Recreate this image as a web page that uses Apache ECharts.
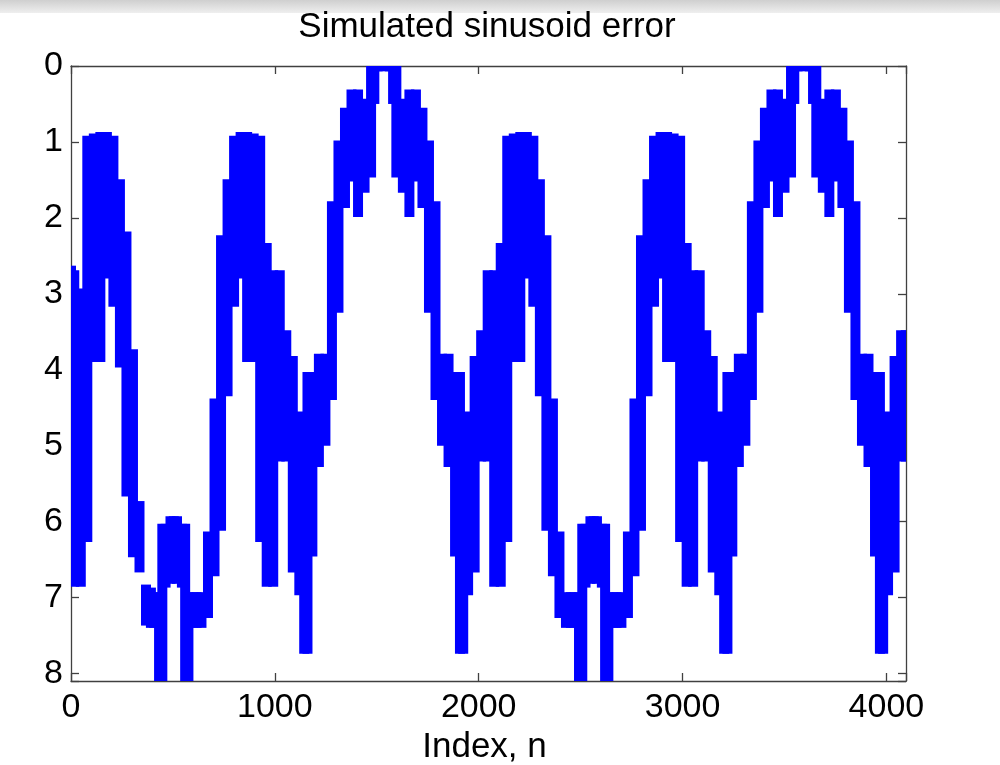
<!DOCTYPE html>
<html>
<head>
<meta charset="utf-8">
<script src="https://cdn.jsdelivr.net/npm/echarts@6/dist/echarts.min.js"></script>
<style>
html,body{margin:0;padding:0;background:#fff;}
#edge{position:absolute;left:0;top:0;width:1000px;height:13px;background:linear-gradient(#cfcfcf,#efefef);z-index:0;}
#chart{position:absolute;left:0;top:0;width:1000px;height:765px;z-index:1;}
</style>
</head>
<body>
<div id="edge"></div>
<div id="chart"></div>
<script>
// Sample index n of each read column
const sampleIndex = [
  0,16,48,80,112,144,176,208,240,272,304,336,368,392,408,432,448,464,488,
  504,520,544,560,576,600,616,640,672,704,736,768,800,832,864,896,928,960,992,1024,1056,1088,1120,1144,1160,1184,1216,1248,1280,1312,1344,1376,1408,1440,1472,1488,1504,1534,
  1564,1580,1596,1628,1660,1692,1724,1756,1788,1820,1852,1884,1908,1924,1948,1980,2012,2044,2076,2108,2140,2172,2204,2236,2268,2300,2332,2364,2396,2428,2452,2468,2492,2508,2524,2548,2564,
  2580,2604,2620,2636,2660,2676,2700,2732,2764,2796,2828,2860,2892,2924,2956,2988,3020,3052,3084,3116,3148,3180,3204,3220,3244,3276,3308,3340,3372,3404,3436,3468,3500,3532,3548,3564,3594,
  3624,3640,3656,3688,3720,3752,3784,3816,3848,3880,3912,3944,3968,3984,4008,4040,4072,4095
];
// Smallest error value reached around each column
const lowerEdge = [
  2.63,2.69,2.93,0.92,0.89,0.87,0.87,0.92,1.49,2.18,3.73,5.73,6.83,6.87,6.93,6.93,6.03,6.03,5.93,
  5.93,5.93,6.03,6.03,6.93,6.93,6.93,6.93,6.13,4.38,2.23,1.49,0.92,0.87,0.87,0.89,0.92,2.33,2.69,2.69,3.48,3.82,4.55,5.62,4.03,4.03,3.79,3.79,1.78,0.98,0.55,0.31,0.31,0.43,0,0,0,0,
  0,0,0,0.43,0.31,0.31,0.55,0.98,1.78,3.79,3.79,4.03,4.03,5.62,4.55,3.82,3.48,2.69,2.69,2.33,0.92,0.89,0.87,0.87,0.92,1.49,2.23,4.38,6.13,6.93,6.93,6.93,6.93,6.03,6.03,5.93,5.93,
  5.93,6.03,6.03,6.93,6.93,6.93,6.93,6.13,4.38,2.23,1.49,0.92,0.87,0.87,0.89,0.92,2.33,2.69,2.69,3.48,3.82,4.55,5.62,4.03,4.03,3.79,3.79,1.78,0.98,0.55,0.31,0.31,0.43,0,0,0,0,
  0,0,0,0.43,0.31,0.31,0.55,0.98,1.78,3.79,3.79,4.03,4.03,5.62,4.55,3.82,3.48,3.48
];
// Largest error value reached around each column
const upperEdge = [
  4.07,6.86,6.86,6.27,3.9,3.9,2.8,3.17,3.97,5.67,6.47,6.67,7.37,7.4,7.4,8.3,8.3,6.87,6.82,
  6.47,6.82,6.87,8.3,8.3,7.4,7.4,7.4,7.27,6.72,6.12,4.35,3.17,2.8,3.9,3.9,6.27,6.86,6.86,5.21,5.21,6.67,6.97,7.74,7.74,6.46,5.28,5.0,4.4,3.25,1.87,1.52,1.99,1.67,1.47,0.5,0.07,0.07,
  0.07,0.5,1.47,1.67,1.99,1.52,1.87,3.25,4.4,5.0,5.28,6.46,7.74,7.74,6.97,6.67,5.21,5.21,6.86,6.86,6.27,3.9,3.9,2.8,3.17,4.35,6.12,6.72,7.27,7.4,7.4,7.4,8.3,8.3,6.87,6.82,6.47,
  6.82,6.87,8.3,8.3,7.4,7.4,7.4,7.27,6.72,6.12,4.35,3.17,2.8,3.9,3.9,6.27,6.86,6.86,5.21,5.21,6.67,6.97,7.74,7.74,6.46,5.28,5.0,4.4,3.25,1.87,1.52,1.99,1.67,1.47,0.5,0.07,0.07,
  0.07,0.5,1.47,1.67,1.99,1.52,1.87,3.25,4.4,5.0,5.28,6.46,7.74,7.74,6.97,6.67,5.21,5.21
];
const xTickValues = [0, 1000, 2000, 3000, 4000];
const yTickValues = [0, 1, 2, 3, 4, 5, 6, 7, 8];
const titleText = 'Simulated sinusoid error';
const xAxisTitle = 'Index, n';

// One vertical stroke of the thick line per column: [n, lower, upper]
const columnData = sampleIndex.map((n, i) => [n, lowerEdge[i], upperEdge[i]]);

const FONT = "'Liberation Sans', Arial, Helvetica, sans-serif";
const AXIS_COLOR = '#404040';
const LINE_COLOR = '#0000ff';
const LINE_WIDTH = 10;
const xMin = 0, xMax = 4096, yMin = 0, yMax = 8.1;

const chart = echarts.init(document.getElementById('chart'), null, {renderer: 'canvas'});

function xAxisCfg(pos, showLabels) {
  return {
    type: 'value', position: pos, min: xMin, max: xMax, interval: 1000,
    axisLine: {show: true, onZero: false, lineStyle: {color: AXIS_COLOR, width: 1.3}},
    axisTick: {show: true, inside: true, length: 8, lineStyle: {color: AXIS_COLOR, width: 1.3}},
    axisLabel: {
      show: showLabels, fontSize: 34, color: '#000', fontFamily: FONT, margin: 10,
      formatter: v => xTickValues.indexOf(v) >= 0 ? String(v) : ''
    },
    splitLine: {show: false}
  };
}
function yAxisCfg(pos, showLabels) {
  return {
    type: 'value', position: pos, inverse: true, min: yMin, max: yMax, interval: 1,
    axisLine: {show: true, onZero: false, lineStyle: {color: AXIS_COLOR, width: 1.3}},
    axisTick: {show: true, inside: true, length: 8, lineStyle: {color: AXIS_COLOR, width: 1.3}},
    axisLabel: {
      show: showLabels, fontSize: 34, color: '#000', fontFamily: FONT, margin: 8,
      formatter: v => yTickValues.indexOf(v) >= 0 ? String(v) : ''
    },
    splitLine: {show: false}
  };
}

const xBottom = xAxisCfg('bottom', true);
xBottom.name = xAxisTitle;
xBottom.nameLocation = 'middle';
xBottom.nameGap = 44;
xBottom.nameTextStyle = {fontSize: 35, color: '#000', fontFamily: FONT, padding: [0, 8, 0, 0]};

chart.setOption({
  animation: false,
  backgroundColor: 'transparent',
  title: {
    text: titleText, left: 482, top: 5, textAlign: 'center',
    textStyle: {fontSize: 35, fontWeight: 'normal', color: '#000', fontFamily: FONT}
  },
  grid: {left: 71, top: 66, width: 835, height: 615, containLabel: false, outerBoundsMode: 'none'},
  xAxis: [xBottom, xAxisCfg('top', false)],
  yAxis: [yAxisCfg('left', true), yAxisCfg('right', false)],
  series: [{
    type: 'custom',
    coordinateSystem: 'cartesian2d',
    xAxisIndex: 0, yAxisIndex: 0,
    data: columnData,
    encode: {x: 0, y: [1, 2]},
    clip: true,
    silent: true,
    renderItem: function (params, api) {
      const p1 = api.coord([api.value(0), api.value(1)]);
      const p2 = api.coord([api.value(0), api.value(2)]);
      const rect = echarts.graphic.clipRectByRect({
        x: p1[0] - LINE_WIDTH / 2,
        y: Math.min(p1[1], p2[1]),
        width: LINE_WIDTH,
        height: Math.abs(p2[1] - p1[1])
      }, {
        x: params.coordSys.x, y: params.coordSys.y,
        width: params.coordSys.width, height: params.coordSys.height
      });
      return rect && {type: 'rect', shape: rect, style: {fill: LINE_COLOR}};
    }
  }]
});
</script>
</body>
</html>
